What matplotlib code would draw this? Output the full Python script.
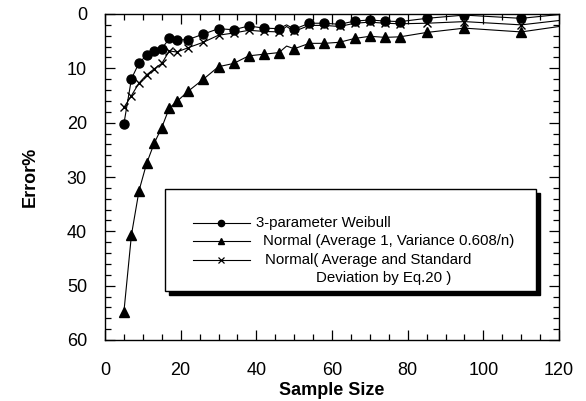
import matplotlib
matplotlib.use("Agg")
import matplotlib.pyplot as plt
from matplotlib.patches import Rectangle
from matplotlib.lines import Line2D
from matplotlib.ticker import MultipleLocator

plt.rcParams['font.family'] = ['Liberation Sans', 'DejaVu Sans']

sample_size = [5, 7, 9, 11, 13, 15, 17, 19, 22, 26, 30, 34, 38, 42, 46, 48, 50,
               54, 58, 62, 66, 70, 74, 78, 85, 95, 110, 120]
weibull = [20.2, 11.9, 9.0, 7.6, 6.9, 6.4, 4.5, 4.8, 4.7, 3.7, 2.7, 2.9, 2.2, 2.6,
           2.7, 2.0, 2.8, 1.7, 1.7, 1.9, 1.3, 1.1, 1.3, 1.4, 0.8, 0.2, 0.8, 0.1]
normal_var = [54.8, 40.6, 32.5, 27.5, 23.8, 20.9, 17.3, 16.1, 14.2, 12.0, 9.7, 9.1,
              7.7, 7.4, 7.1, 5.9, 6.4, 5.4, 5.4, 5.2, 4.5, 4.1, 4.3, 4.2, 3.4, 2.6,
              3.3, 2.3]
normal_eq20 = [17.2, 15.0, 12.7, 11.2, 10.1, 9.1, 6.8, 7.0, 6.2, 5.2, 3.9, 3.5, 3.0,
               3.2, 3.3, 2.3, 3.2, 2.1, 2.1, 2.3, 1.7, 1.5, 1.7, 1.8, 1.7, 1.4, 2.0,
               1.2]
marked = [i for i, s in enumerate(sample_size) if s not in (48, 120)]

label_weibull = "3-parameter Weibull"
label_var = "Normal (Average 1, Variance 0.608/n)"
label_eq20_1 = "Normal( Average and Standard"
label_eq20_2 = "Deviation by Eq.20 )"

fig = plt.figure(figsize=(5.86, 4.01), dpi=100)
ax = fig.add_axes([105/586, 1-340/401, 454/586, 326/401])

ax.plot(sample_size, normal_var, color='black', lw=0.8, marker='^', ms=6.5,
        markevery=marked, zorder=3)
ax.plot(sample_size, normal_eq20, color='black', lw=0.8, marker='x', ms=5.5,
        mew=1.0, markevery=marked, zorder=3)
ax.plot(sample_size, weibull, color='black', lw=0.8, marker='o', ms=6.5,
        markevery=marked, zorder=4)

ax.set_xlim(0, 120)
ax.set_ylim(60, 0)
ax.xaxis.set_major_locator(MultipleLocator(20))
ax.xaxis.set_minor_locator(MultipleLocator(5))
ax.yaxis.set_major_locator(MultipleLocator(10))
ax.yaxis.set_minor_locator(MultipleLocator(2))
ax.tick_params(which='both', direction='in', top=True, right=True, width=0.9,
               labelsize=13)
ax.tick_params(which='major', length=7)
ax.tick_params(which='minor', length=4)
ax.tick_params(axis='x', which='major', pad=16)
ax.tick_params(axis='y', which='major', pad=13)
for sp in ax.spines.values():
    sp.set_linewidth(1.0)

ax.set_xlabel("Sample Size", fontsize=13, fontweight='bold', labelpad=2)
ax.set_ylabel("Error%", fontsize=13, fontweight='bold', labelpad=20)


def ax_x(px):
    return (px - 105) / 454


def ax_y(py):
    return (340 - py) / 326


bx0, bx1 = ax_x(165), ax_x(536)
by0, by1 = ax_y(291), ax_y(189)
sx, sy = 4/454, 4/326
ax.add_patch(Rectangle((bx0 + sx, by0 - sy), bx1 - bx0, by1 - by0,
                       transform=ax.transAxes, facecolor='black',
                       edgecolor='black', zorder=5, clip_on=False))
ax.add_patch(Rectangle((bx0, by0), bx1 - bx0, by1 - by0, transform=ax.transAxes,
                       facecolor='white', edgecolor='black', lw=1.0, zorder=6,
                       clip_on=False))

rows = [(('o', 4.5, 1.0), 223, 256, label_weibull),
        (('^', 5, 1.0), 241, 263, label_var),
        (('x', 4.5, 0.9), 260, 265, label_eq20_1)]
for (m, ms, mew), py, tx, lab in rows:
    ax.add_line(Line2D([ax_x(193), ax_x(250)], [ax_y(py), ax_y(py)],
                       transform=ax.transAxes, color='black', lw=0.8, zorder=7))
    ax.add_line(Line2D([ax_x(221)], [ax_y(py)], transform=ax.transAxes,
                       marker=m, ms=ms, mew=mew, color='black', zorder=7))
    ax.text(ax_x(tx), ax_y(py), lab, transform=ax.transAxes, fontsize=10.8,
            va='center', ha='left', zorder=8)
ax.text(ax_x(316), ax_y(278), label_eq20_2, transform=ax.transAxes,
        fontsize=10.8, va='center', ha='left', zorder=8)

fig.savefig("out.png", dpi=100)
